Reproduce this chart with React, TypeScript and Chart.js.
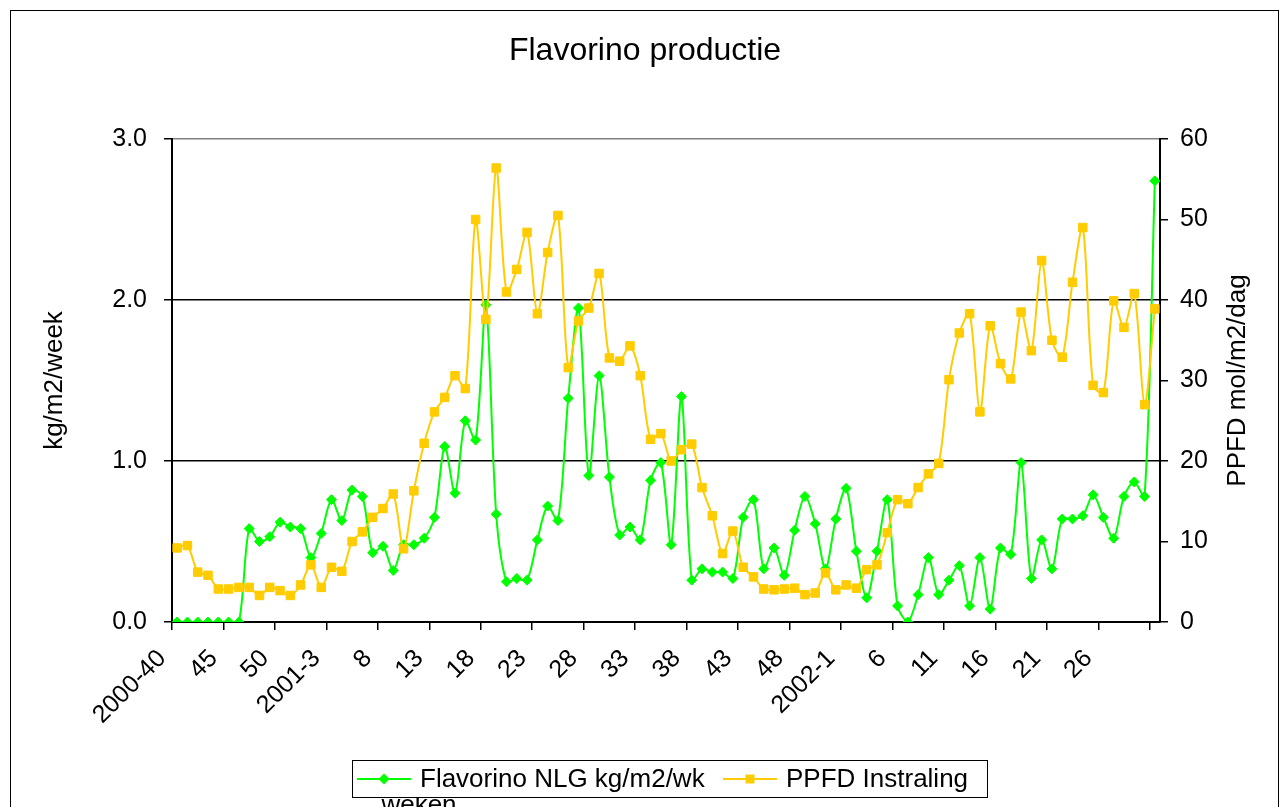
import React, { useEffect, useRef } from "react";
import { Chart, registerables } from "chart.js";

Chart.register(...registerables);

const FONT = "'Liberation Sans', Arial, Helvetica, sans-serif";

const titleText = "Flavorino productie";
const leftAxisTitle = "kg/m2/week";
const rightAxisTitle = "PPFD mol/m2/dag";
const xAxisTitle = "weken";
const seriesNames = ["Flavorino NLG kg/m2/wk", "PPFD Instraling"];

// week categories 2000-40 .. 2002-31
const weekRanges = [
  { year: 2000, from: 40, to: 52 },
  { year: 2001, from: 1, to: 52 },
  { year: 2002, from: 1, to: 31 },
];
const categories: string[] = weekRanges.flatMap((r) =>
  Array.from({ length: r.to - r.from + 1 }, (_, k) => `${r.year}-${r.from + k}`)
);

// shown every 5th category
const xTickLabels = [
  "2000-40", "45", "50", "2001-3", "8", "13", "18", "23", "28", "33",
  "38", "43", "48", "2002-1", "6", "11", "16", "21", "26", "",
];

const flavorinoKg = [
  0, 0, 0, 0, 0, 0, 0, 0.58, 0.5, 0.53,
  0.62, 0.59, 0.58, 0.4, 0.55, 0.76, 0.63, 0.82, 0.78, 0.43,
  0.47, 0.32, 0.48, 0.48, 0.52, 0.65, 1.09, 0.8, 1.25, 1.13,
  1.97, 0.67, 0.25, 0.27, 0.26, 0.51, 0.72, 0.63, 1.39, 1.95,
  0.91, 1.53, 0.9, 0.54, 0.59, 0.51, 0.88, 0.99, 0.48, 1.4,
  0.26, 0.33, 0.31, 0.31, 0.27, 0.65, 0.76, 0.33, 0.46, 0.29,
  0.57, 0.78, 0.61, 0.33, 0.64, 0.83, 0.44, 0.15, 0.44, 0.76,
  0.1, 0.0, 0.17, 0.4, 0.17, 0.26, 0.35, 0.1, 0.4, 0.08,
  0.46, 0.42, 0.99, 0.27, 0.51, 0.33, 0.64, 0.64, 0.66, 0.79,
  0.65, 0.52, 0.78, 0.87, 0.78, 2.74,
];

const ppfdInstraling = [
  9.2, 9.5, 6.2, 5.8, 4.1, 4.1, 4.3, 4.3, 3.3, 4.3,
  3.9, 3.3, 4.6, 7.1, 4.3, 6.8, 6.3, 10.0, 11.2, 13.0,
  14.1, 15.9, 9.1, 16.3, 22.2, 26.1, 27.9, 30.6, 29.0, 50.0,
  37.6, 56.4, 41.0, 43.8, 48.4, 38.3, 45.9, 50.5, 31.6, 37.4,
  39.0, 43.3, 32.8, 32.4, 34.3, 30.6, 22.7, 23.4, 20.0, 21.4,
  22.1, 16.7, 13.2, 8.5, 11.3, 6.8, 5.6, 4.1, 4.0, 4.1,
  4.2, 3.4, 3.6, 6.1, 4.0, 4.6, 4.2, 6.5, 7.1, 11.1,
  15.2, 14.7, 16.7, 18.4, 19.7, 30.1, 35.9, 38.3, 26.1, 36.8,
  32.1, 30.2, 38.5, 33.7, 44.9, 35.0, 32.9, 42.2, 49.0, 29.4,
  28.5, 39.9, 36.6, 40.8, 27.0, 38.9,
];

const GREEN = "#00ff00";
const YELLOW = "#ffcc00";

function drawDiamond(ctx: CanvasRenderingContext2D, x: number, y: number, r: number, color: string) {
  ctx.beginPath();
  ctx.moveTo(x, y - r);
  ctx.lineTo(x + r, y);
  ctx.lineTo(x, y + r);
  ctx.lineTo(x - r, y);
  ctx.closePath();
  ctx.fillStyle = color;
  ctx.fill();
}

function drawSquare(ctx: CanvasRenderingContext2D, x: number, y: number, h: number, color: string) {
  ctx.fillStyle = color;
  ctx.fillRect(x - h, y - h, 2 * h, 2 * h);
}

const decorPlugin = {
  id: "decor",
  beforeDraw(chart: any) {
    const ctx = chart.ctx as CanvasRenderingContext2D;
    ctx.save();
    ctx.fillStyle = "#ffffff";
    ctx.fillRect(0, 0, chart.width, chart.height);
    ctx.strokeStyle = "#000000";
    ctx.lineWidth = 1;
    ctx.strokeRect(10.5, 10.5, 1268, 830);
    ctx.restore();
  },
  afterDraw(chart: any) {
    const ctx = chart.ctx as CanvasRenderingContext2D;
    const area = chart.chartArea;
    ctx.save();
    ctx.fillStyle = "#000000";
    // title
    ctx.font = `32px ${FONT}`;
    ctx.textAlign = "center";
    ctx.textBaseline = "alphabetic";
    ctx.fillText(titleText, 645, 60);

    // axis titles
    const midY = (area.top + area.bottom) / 2;
    ctx.font = `26px ${FONT}`;
    ctx.textBaseline = "middle";
    ctx.save();
    ctx.translate(55, midY);
    ctx.rotate(-Math.PI / 2);
    ctx.fillText(leftAxisTitle, 0, 0);
    ctx.restore();
    ctx.save();
    ctx.translate(1238, midY);
    ctx.rotate(-Math.PI / 2);
    ctx.fillText(rightAxisTitle, 0, 0);
    ctx.restore();

    // x axis title (partly hidden behind legend)
    ctx.textBaseline = "alphabetic";
    ctx.fillText(xAxisTitle, 419, 813);

    // legend box
    const bx = 352.5, by = 760.5, bw = 635, bh = 37;
    ctx.fillStyle = "#ffffff";
    ctx.fillRect(bx, by, bw, bh);
    ctx.strokeStyle = "#000000";
    ctx.lineWidth = 1;
    ctx.strokeRect(bx, by, bw, bh);
    const ly = by + bh / 2;
    const ds = chart.data.datasets;
    // item 1
    ctx.strokeStyle = ds[0].borderColor;
    ctx.lineWidth = 2;
    ctx.beginPath();
    ctx.moveTo(357, ly);
    ctx.lineTo(411, ly);
    ctx.stroke();
    drawDiamond(ctx, 384, ly, 5.5, ds[0].pointBackgroundColor);
    ctx.fillStyle = "#000000";
    ctx.font = `26px ${FONT}`;
    ctx.textAlign = "left";
    ctx.textBaseline = "middle";
    ctx.fillText(ds[0].label, 420, ly + 1);
    // item 2
    ctx.strokeStyle = ds[1].borderColor;
    ctx.beginPath();
    ctx.moveTo(723, ly);
    ctx.lineTo(777, ly);
    ctx.stroke();
    drawSquare(ctx, 750, ly, 4.5, ds[1].pointBackgroundColor);
    ctx.fillStyle = "#000000";
    ctx.fillText(ds[1].label, 786, ly + 1);
    ctx.restore();
  },
};

export default function App() {
  const canvasRef = useRef<HTMLCanvasElement | null>(null);

  useEffect(() => {
    const canvas = canvasRef.current;
    if (!canvas) return;
    const chart = new Chart(canvas, {
      type: "line",
      data: {
        labels: categories,
        datasets: [
          {
            label: seriesNames[0],
            data: flavorinoKg,
            yAxisID: "y",
            borderColor: GREEN,
            backgroundColor: GREEN,
            pointBackgroundColor: GREEN,
            pointBorderColor: GREEN,
            pointStyle: "rectRot",
            pointRadius: 5,
            pointBorderWidth: 1,
            borderWidth: 2,
            tension: 0.3,
            fill: false,
            order: 1,
          },
          {
            label: seriesNames[1],
            data: ppfdInstraling,
            yAxisID: "y1",
            borderColor: YELLOW,
            backgroundColor: YELLOW,
            pointBackgroundColor: YELLOW,
            pointBorderColor: YELLOW,
            pointStyle: "rect",
            pointRadius: 6,
            pointBorderWidth: 1,
            borderWidth: 2,
            tension: 0.3,
            fill: false,
            order: 0,
          },
        ],
      },
      options: {
        responsive: false,
        animation: false,
        layout: { padding: { left: 40, right: 27, top: 139, bottom: 0 } },
        plugins: {
          legend: { display: false },
          title: { display: false },
          tooltip: { enabled: false },
        },
        scales: {
          x: {
            type: "category",
            offset: true,
            afterFit: (s: any) => {
              s.height = 185;
            },
            grid: {
              offset: true,
              drawOnChartArea: false,
              drawTicks: true,
              tickLength: 8,
              lineWidth: 1.5,
              color: (c: any) => (typeof c.index === "number" && c.index % 5 === 0 ? "#000000" : "rgba(0,0,0,0)"),
            },
            border: { display: true, color: "#000000", width: 2 },
            ticks: {
              autoSkip: false,
              maxRotation: 45,
              minRotation: 45,
              padding: 14,
              labelOffset: -15,
              color: "#000000",
              font: { family: FONT, size: 25 },
              callback: (_v: any, i: number) => (i % 5 === 0 ? xTickLabels[i / 5] : ""),
            },
          },
          y: {
            position: "left",
            min: 0,
            max: 3,
            afterFit: (s: any) => {
              s.width = 132;
            },
            grid: {
              drawTicks: true,
              tickLength: 8,
              lineWidth: 1.5,
              color: (c: any) => (c.tick && c.tick.value === 3 ? "#808080" : "#000000"),
              tickColor: "#000000",
            },
            border: { display: true, color: "#000000", width: 2 },
            ticks: {
              stepSize: 1,
              padding: 17,
              color: "#000000",
              font: { family: FONT, size: 25 },
              callback: (v: any) => Number(v).toFixed(1),
            },
          },
          y1: {
            position: "right",
            min: 0,
            max: 60,
            afterFit: (s: any) => {
              s.width = 100;
            },
            grid: {
              drawOnChartArea: false,
              drawTicks: true,
              tickLength: 8,
              lineWidth: 1.5,
              color: "#000000",
            },
            border: { display: true, color: "#000000", width: 2 },
            ticks: {
              stepSize: 10,
              padding: 12,
              color: "#000000",
              font: { family: FONT, size: 25 },
            },
          },
        },
      },
      plugins: [decorPlugin],
    });
    return () => chart.destroy();
  }, []);

  return (
    <div style={{ position: "fixed", left: 0, top: 0, width: 1287, height: 807, background: "#fff" }}>
      <canvas ref={canvasRef} width={1287} height={807} style={{ display: "block" }} />
    </div>
  );
}
